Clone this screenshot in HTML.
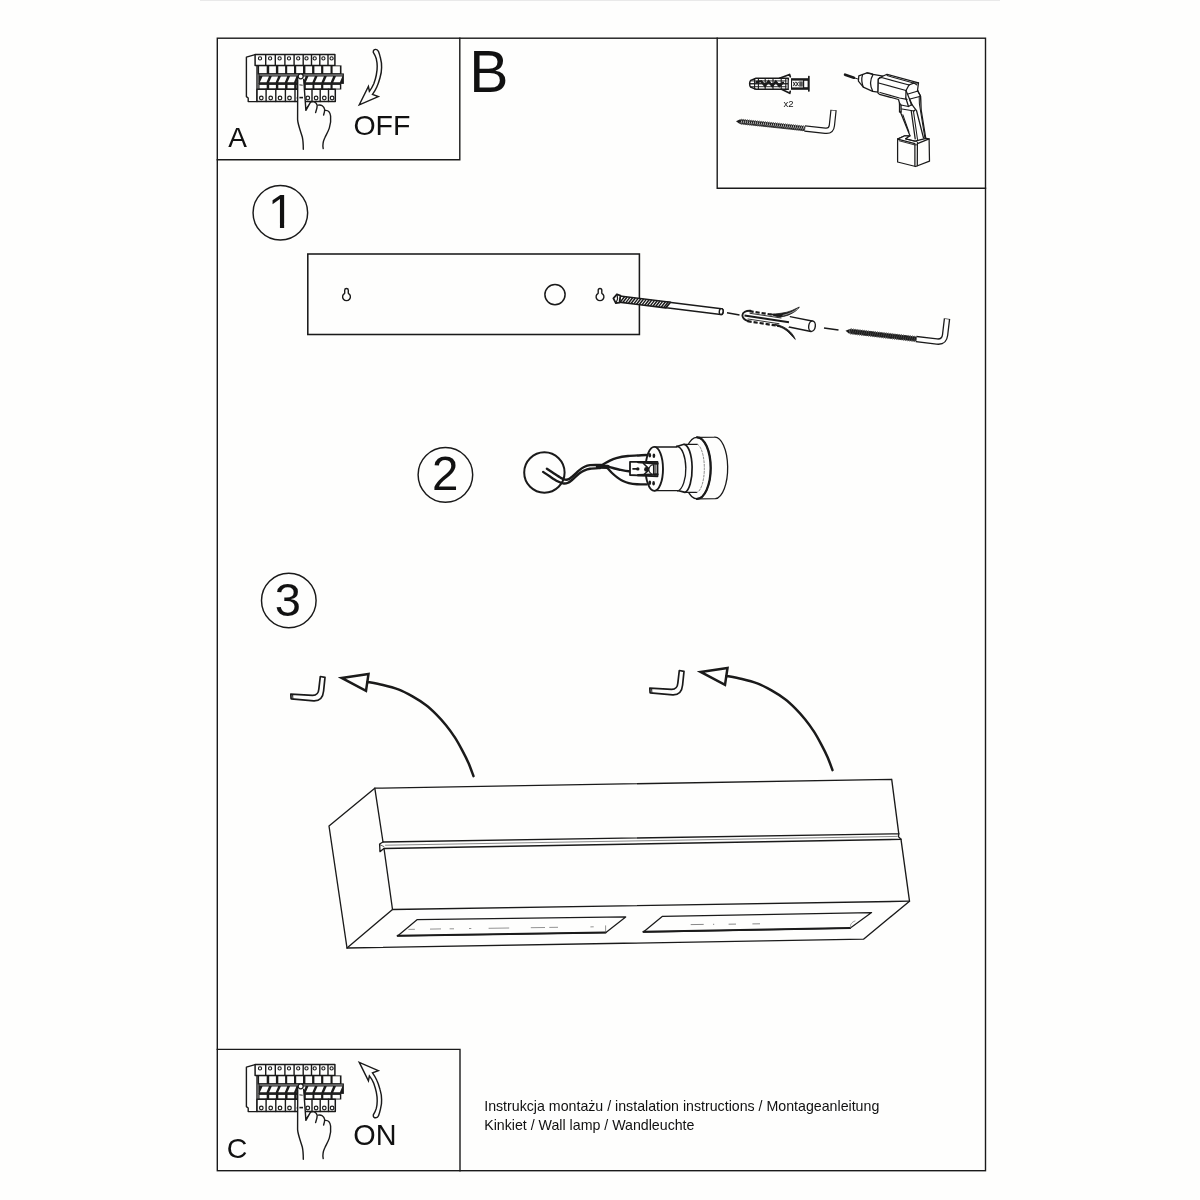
<!DOCTYPE html>
<html lang="pl">
<head>
<meta charset="utf-8">
<title>Instrukcja montażu</title>
<style>
html,body{margin:0;padding:0;background:#fefefd;}
body{width:1200px;height:1200px;overflow:hidden;position:relative;font-family:"Liberation Sans",sans-serif;color:#111;}
svg{position:absolute;left:0;top:0;will-change:transform;}
svg text{font-family:"Liberation Sans",sans-serif;fill:#111;}
.t{position:absolute;white-space:nowrap;line-height:1;color:#111;}
.k{fill:none;stroke:#1a1a1a;stroke-width:1.3;stroke-linecap:round;stroke-linejoin:round;}
.w{fill:#fefefd;stroke:#1a1a1a;stroke-width:1.3;stroke-linecap:round;stroke-linejoin:round;}
.b{fill:#1a1a1a;stroke:none;}
</style>
</head>
<body>
<svg width="1200" height="1200" viewBox="0 0 1200 1200">
<rect x="200" y="0" width="800" height="1" fill="#e9e9e9"/><g class="k" style="stroke-linecap:square;stroke-linejoin:miter;stroke-width:1.4"><rect x="217.3" y="38.2" width="768.2" height="1132.5"/><path d="M217.3 159.7H459.8V38.2"/><path d="M717.2 38.2V188.2H985.5"/><path d="M217.3 1049.4H460V1170.7"/></g><circle class="k" cx="280.35" cy="212.7" r="27.3" style="stroke-width:1.45"/><circle class="k" cx="445.4" cy="474.85" r="27.3" style="stroke-width:1.45"/><circle class="k" cx="288.8" cy="600.5" r="27.3" style="stroke-width:1.45"/><rect class="k" x="307.8" y="254" width="331.6" height="80.5" style="stroke-linejoin:miter;stroke-width:1.55"/><defs><g id="brk"><polygon class="w" points="255.1,54.6 246.4,57.2 246.4,96.6 248.2,98.0 248.2,101.6 257.0,101.6 257.0,54.6" style="stroke-width:1.4"/><rect class="w" x="255.1" y="54.6" width="79.8" height="10.8" style="stroke-width:1.5"/><line class="k" x1="265.7" y1="54.6" x2="265.7" y2="65.4" style="stroke-width:1.4"/><line class="k" x1="275.3" y1="54.6" x2="275.3" y2="65.4" style="stroke-width:1.4"/><line class="k" x1="284.9" y1="54.6" x2="284.9" y2="65.4" style="stroke-width:1.4"/><line class="k" x1="294.1" y1="54.6" x2="294.1" y2="65.4" style="stroke-width:1.4"/><line class="k" x1="303.2" y1="54.6" x2="303.2" y2="65.4" style="stroke-width:1.4"/><line class="k" x1="311.5" y1="54.6" x2="311.5" y2="65.4" style="stroke-width:1.4"/><line class="k" x1="319.8" y1="54.6" x2="319.8" y2="65.4" style="stroke-width:1.4"/><line class="k" x1="328.0" y1="54.6" x2="328.0" y2="65.4" style="stroke-width:1.4"/><circle class="k" cx="260.0" cy="58.4" r="1.6" style="stroke-width:1.1"/><circle class="k" cx="270.1" cy="58.4" r="1.6" style="stroke-width:1.1"/><circle class="k" cx="279.6" cy="58.4" r="1.6" style="stroke-width:1.1"/><circle class="k" cx="289.0" cy="58.4" r="1.6" style="stroke-width:1.1"/><circle class="k" cx="298.2" cy="58.4" r="1.6" style="stroke-width:1.1"/><circle class="k" cx="306.5" cy="58.4" r="1.6" style="stroke-width:1.1"/><circle class="k" cx="314.7" cy="58.4" r="1.6" style="stroke-width:1.1"/><circle class="k" cx="323.4" cy="58.4" r="1.6" style="stroke-width:1.1"/><circle class="k" cx="331.6" cy="58.4" r="1.6" style="stroke-width:1.1"/><rect class="b" x="257.6" y="65.4" width="83.9" height="9"/><rect x="259.1" y="66.3" width="7.6" height="7" fill="#fefefd"/><rect x="269.2" y="66.3" width="6.7" height="7" fill="#fefefd"/><rect x="278.3" y="66.3" width="6.8" height="7" fill="#fefefd"/><rect x="287.2" y="66.3" width="6.8" height="7" fill="#fefefd"/><rect x="296.2" y="66.3" width="6.8" height="7" fill="#fefefd"/><rect x="305.4" y="66.3" width="6.7" height="7" fill="#fefefd"/><rect x="314.4" y="66.3" width="6.7" height="7" fill="#fefefd"/><rect x="323.3" y="66.3" width="7.2" height="7" fill="#fefefd"/><rect x="332.6" y="66.3" width="7.3" height="7" fill="#fefefd"/><rect class="b" x="258.3" y="73.4" width="85.6" height="10.5"/><rect x="259.5" y="74.7" width="83.2" height="0.6" fill="#fefefd"/><polygon class="w" points="262.5,76.4 268.9,76.4 266.5,82.3 259.9,82.3" style="stroke:none"/><polygon class="w" points="271.7,76.4 278.1,76.4 275.7,82.3 269.1,82.3" style="stroke:none"/><polygon class="w" points="280.8,76.4 287.2,76.4 284.8,82.3 278.2,82.3" style="stroke:none"/><polygon class="w" points="290.0,76.4 296.4,76.4 294.0,82.3 287.4,82.3" style="stroke:none"/><polygon class="w" points="299.2,76.4 305.6,76.4 303.2,82.3 296.6,82.3" style="stroke:none"/><polygon class="w" points="308.4,76.4 314.8,76.4 312.4,82.3 305.8,82.3" style="stroke:none"/><polygon class="w" points="317.5,76.4 323.9,76.4 321.5,82.3 314.9,82.3" style="stroke:none"/><polygon class="w" points="326.7,76.4 333.1,76.4 330.7,82.3 324.1,82.3" style="stroke:none"/><polygon class="w" points="335.9,76.4 342.3,76.4 339.9,82.3 333.3,82.3" style="stroke:none"/><rect class="b" x="258.3" y="83.3" width="83" height="6.2"/><rect x="259.5" y="84.9" width="7.2" height="3.7" fill="#fefefd"/><rect x="269.2" y="84.9" width="6.7" height="3.7" fill="#fefefd"/><rect x="278.3" y="84.9" width="6.8" height="3.7" fill="#fefefd"/><rect x="287.5" y="84.9" width="6.7" height="3.7" fill="#fefefd"/><rect x="296.7" y="84.9" width="6.7" height="3.7" fill="#fefefd"/><rect x="305.8" y="84.9" width="6.7" height="3.7" fill="#fefefd"/><rect x="314.4" y="84.9" width="6.7" height="3.7" fill="#fefefd"/><rect x="323.3" y="84.9" width="7.2" height="3.7" fill="#fefefd"/><rect x="332.6" y="84.9" width="7.3" height="3.7" fill="#fefefd"/><rect class="w" x="257" y="89.3" width="78.3" height="12.3" style="stroke-width:1.5"/><line class="k" x1="266.1" y1="89.3" x2="266.1" y2="101.6" style="stroke-width:1.4"/><line class="k" x1="275.8" y1="89.3" x2="275.8" y2="101.6" style="stroke-width:1.4"/><line class="k" x1="285.4" y1="89.3" x2="285.4" y2="101.6" style="stroke-width:1.4"/><line class="k" x1="295.0" y1="89.3" x2="295.0" y2="101.6" style="stroke-width:1.4"/><line class="k" x1="304.2" y1="89.3" x2="304.2" y2="101.6" style="stroke-width:1.4"/><line class="k" x1="312.0" y1="89.3" x2="312.0" y2="101.6" style="stroke-width:1.4"/><line class="k" x1="320.2" y1="89.3" x2="320.2" y2="101.6" style="stroke-width:1.4"/><line class="k" x1="328.5" y1="89.3" x2="328.5" y2="101.6" style="stroke-width:1.4"/><circle class="k" cx="261.3" cy="98.0" r="1.8" style="stroke-width:1.2"/><circle class="k" cx="270.7" cy="98.0" r="1.8" style="stroke-width:1.2"/><circle class="k" cx="280.0" cy="98.0" r="1.8" style="stroke-width:1.2"/><circle class="k" cx="289.5" cy="98.0" r="1.8" style="stroke-width:1.2"/><circle class="k" cx="299.0" cy="98.0" r="1.8" style="stroke-width:1.2"/><circle class="k" cx="307.8" cy="98.0" r="1.8" style="stroke-width:1.2"/><circle class="k" cx="316.1" cy="98.0" r="1.8" style="stroke-width:1.2"/><circle class="k" cx="324.3" cy="98.0" r="1.8" style="stroke-width:1.2"/><circle class="k" cx="332.1" cy="98.0" r="1.8" style="stroke-width:1.2"/><path class="w" d="M297.7 79.5 L297.6 119.6 C297.8 124 300.5 131 302.3 137 C303.2 141 303.3 145 303.3 149.3 L323.2 148.6 C322.3 144 323.5 141 324.7 138 C327 133 329 130 329.6 126 C330.8 121 331 116 329.5 113 C328.6 111 327 110.4 325.4 110.4 C324.7 107 322.5 105.2 320.5 105 C319.3 104.9 318.6 105 318.3 105.1 C317 102.3 315 101.6 313 101.7 C312 101.7 311 101.9 310.5 102.2 L305.9 110.4 L303.7 79.5 Z" style="stroke:none"/><path class="k" d="M297.7 79.5 L297.6 119.6 C297.8 124 300.5 131 302.3 137 C303.2 141 303.3 145 303.3 149.3" style="stroke-width:1.4"/><path class="k" d="M303.7 79.5 L305.9 110.4 L310.5 102.2" style="stroke-width:1.4"/><path class="k" d="M310.5 102.2 C312.5 101.2 316 101.5 317.2 105.2 C317.3 108 316.3 110.5 315.6 112.6" style="stroke-width:1.4"/><path class="k" d="M318.3 105.1 C321 104.4 324 106 324.7 109.7 C324.6 112 324 113.6 323.6 115" style="stroke-width:1.4"/><path class="k" d="M325.4 110.4 C328 110.2 330 112 330.6 116 C331.1 120 330.5 124 329.3 128.1 C328 132 326 135 324.7 138 C323.3 141 322.2 144 323.2 148.6" style="stroke-width:1.4"/><path class="b" d="M305.7 108 L305.9 110.4 L309.6 103.8 Z" /><circle class="w" cx="300.7" cy="76.3" r="2.5" style="stroke-width:1.25"/><line class="k" x1="299.8" y1="84.9" x2="302.3" y2="85.2" style="stroke-width:0.9"/><rect class="b" x="299.4" y="96.8" width="3.6" height="1.6"/></g><path id="arw" class="w" style="stroke-width:1.45;stroke-linejoin:miter" d="M373.3 52.4 C373 50.2 374.4 49.3 375.8 49.4 C377.2 49.5 378 50.3 378.5 51.5 C379.5 54 380 56 380.4 57.8 C381.5 62 381.8 65 381.6 67.5 C381.6 71 381 74.5 380 77.8 C379 81.5 378 84.5 376.8 87 C375.5 90 374 92.3 372.5 94.4 L378.3 96.6 L359.3 104.8 L368.4 86.4 L369.4 91.3 C371 89.3 372.6 86.5 373.8 83.8 C375 80.5 375.8 77.8 376.3 75 C376.9 72 377.3 69 377.2 66.3 C377.2 63.5 376.8 61 376.3 58.8 C375.7 56.5 374.7 54.6 373.3 52.4 Z"/></defs><use href="#brk"/><use href="#brk" transform="translate(0,1010)"/><use href="#arw"/><use href="#arw" transform="translate(0,1167.2) scale(1,-1)"/><g><path class="w" d="M788.3 78.2 H756 L750.6 80.4 C749.3 82 749.3 85.5 750.6 87.1 L756 89.3 H788.3 Z" style="stroke-width:1.5"/><path class="k" d="M779.5 78.2 L789.6 74.5 L790.3 76.8" style="stroke-width:1.7"/><path class="k" d="M781.5 89.3 L789.8 93.3 L790.2 91.3" style="stroke-width:1.7"/><line class="k" x1="754.6" y1="78.6" x2="754.6" y2="89.0" style="stroke-width:1.1"/><line class="k" x1="758.4" y1="78.6" x2="758.4" y2="89.0" style="stroke-width:1.1"/><line class="k" x1="765.2" y1="78.6" x2="765.2" y2="89.0" style="stroke-width:1.1"/><line class="k" x1="773.0" y1="78.6" x2="773.0" y2="89.0" style="stroke-width:1.1"/><line class="k" x1="781.2" y1="78.6" x2="781.2" y2="89.0" style="stroke-width:1.1"/><line class="k" x1="785.8" y1="78.6" x2="785.8" y2="89.0" style="stroke-width:1.1"/><line class="k" x1="751.0" y1="80.9" x2="786.0" y2="80.9" style="stroke-width:0.9"/><line class="k" x1="751.0" y1="86.7" x2="786.0" y2="86.7" style="stroke-width:0.9"/><rect class="b" x="750" y="83.1" width="38" height="1.3"/><polyline class="k" points="756.5,82.2 761.3,81.2 765.0,85.8 768.6,81.3 772.2,86.0 775.8,81.5 779.3,86.1 783.0,82.6" style="stroke-width:2.3;stroke-linejoin:miter"/><rect class="b" x="791" y="78.2" width="17.4" height="11.6"/><rect x="792" y="80.6" width="11" height="6.8" fill="#fefefd"/><rect x="804.2" y="80.8" width="3.4" height="6.4" fill="#fefefd"/><rect x="799.2" y="81.4" width="3.6" height="5.2" fill="#555"/><path class="k" d="M793.2 82.2 l2.2 3.6 M795.4000000000001 82.2 l-2.2 3.6" style="stroke-width:0.9"/><path class="k" d="M796.2 82.2 l2.2 3.6 M798.4000000000001 82.2 l-2.2 3.6" style="stroke-width:0.9"/><rect x="788.8" y="80.2" width="1.8" height="9" fill="#fefefd"/><rect class="b" x="808" y="75.8" width="1.7" height="15.9" rx="0.6"/></g><g transform="translate(736 121.2) rotate(6.1)"><path class="b" d="M0 0 L4 -2.3 L4 2.3 Z" /><rect class="b" x="4" y="-1.9" width="65.0" height="3.8"/><path d="M5.9 -1.4 L5.1 1.4" stroke="#e0e0e0" stroke-width="0.75" fill="none"/><path d="M7.9 -1.4 L7.1 1.4" stroke="#e0e0e0" stroke-width="0.75" fill="none"/><path d="M9.9 -1.4 L9.1 1.4" stroke="#e0e0e0" stroke-width="0.75" fill="none"/><path d="M11.9 -1.4 L11.1 1.4" stroke="#e0e0e0" stroke-width="0.75" fill="none"/><path d="M13.9 -1.4 L13.1 1.4" stroke="#e0e0e0" stroke-width="0.75" fill="none"/><path d="M15.9 -1.4 L15.1 1.4" stroke="#e0e0e0" stroke-width="0.75" fill="none"/><path d="M17.9 -1.4 L17.1 1.4" stroke="#e0e0e0" stroke-width="0.75" fill="none"/><path d="M19.9 -1.4 L19.1 1.4" stroke="#e0e0e0" stroke-width="0.75" fill="none"/><path d="M21.9 -1.4 L21.1 1.4" stroke="#e0e0e0" stroke-width="0.75" fill="none"/><path d="M23.9 -1.4 L23.1 1.4" stroke="#e0e0e0" stroke-width="0.75" fill="none"/><path d="M25.9 -1.4 L25.1 1.4" stroke="#e0e0e0" stroke-width="0.75" fill="none"/><path d="M27.9 -1.4 L27.1 1.4" stroke="#e0e0e0" stroke-width="0.75" fill="none"/><path d="M29.9 -1.4 L29.1 1.4" stroke="#e0e0e0" stroke-width="0.75" fill="none"/><path d="M31.9 -1.4 L31.1 1.4" stroke="#e0e0e0" stroke-width="0.75" fill="none"/><path d="M33.9 -1.4 L33.1 1.4" stroke="#e0e0e0" stroke-width="0.75" fill="none"/><path d="M35.9 -1.4 L35.1 1.4" stroke="#e0e0e0" stroke-width="0.75" fill="none"/><path d="M37.9 -1.4 L37.1 1.4" stroke="#e0e0e0" stroke-width="0.75" fill="none"/><path d="M39.9 -1.4 L39.1 1.4" stroke="#e0e0e0" stroke-width="0.75" fill="none"/><path d="M41.9 -1.4 L41.1 1.4" stroke="#e0e0e0" stroke-width="0.75" fill="none"/><path d="M43.9 -1.4 L43.1 1.4" stroke="#e0e0e0" stroke-width="0.75" fill="none"/><path d="M45.9 -1.4 L45.1 1.4" stroke="#e0e0e0" stroke-width="0.75" fill="none"/><path d="M47.9 -1.4 L47.1 1.4" stroke="#e0e0e0" stroke-width="0.75" fill="none"/><path d="M49.9 -1.4 L49.1 1.4" stroke="#e0e0e0" stroke-width="0.75" fill="none"/><path d="M51.9 -1.4 L51.1 1.4" stroke="#e0e0e0" stroke-width="0.75" fill="none"/><path d="M53.9 -1.4 L53.1 1.4" stroke="#e0e0e0" stroke-width="0.75" fill="none"/><path d="M55.9 -1.4 L55.1 1.4" stroke="#e0e0e0" stroke-width="0.75" fill="none"/><path d="M57.9 -1.4 L57.1 1.4" stroke="#e0e0e0" stroke-width="0.75" fill="none"/><path d="M59.9 -1.4 L59.1 1.4" stroke="#e0e0e0" stroke-width="0.75" fill="none"/><path d="M61.9 -1.4 L61.1 1.4" stroke="#e0e0e0" stroke-width="0.75" fill="none"/><path d="M63.9 -1.4 L63.1 1.4" stroke="#e0e0e0" stroke-width="0.75" fill="none"/><path d="M65.9 -1.4 L65.1 1.4" stroke="#e0e0e0" stroke-width="0.75" fill="none"/><path d="M67.9 -1.4 L67.1 1.4" stroke="#e0e0e0" stroke-width="0.75" fill="none"/><path class="k" d="M4.5 -1.8 l1.0 -0.7 l1.0 0.7 M4.5 1.8 l1.0 0.7 l1.0 -0.7 M6.5 -1.8 l1.0 -0.7 l1.0 0.7 M6.5 1.8 l1.0 0.7 l1.0 -0.7 M8.5 -1.8 l1.0 -0.7 l1.0 0.7 M8.5 1.8 l1.0 0.7 l1.0 -0.7 M10.5 -1.8 l1.0 -0.7 l1.0 0.7 M10.5 1.8 l1.0 0.7 l1.0 -0.7 M12.5 -1.8 l1.0 -0.7 l1.0 0.7 M12.5 1.8 l1.0 0.7 l1.0 -0.7 M14.5 -1.8 l1.0 -0.7 l1.0 0.7 M14.5 1.8 l1.0 0.7 l1.0 -0.7 M16.5 -1.8 l1.0 -0.7 l1.0 0.7 M16.5 1.8 l1.0 0.7 l1.0 -0.7 M18.5 -1.8 l1.0 -0.7 l1.0 0.7 M18.5 1.8 l1.0 0.7 l1.0 -0.7 M20.5 -1.8 l1.0 -0.7 l1.0 0.7 M20.5 1.8 l1.0 0.7 l1.0 -0.7 M22.5 -1.8 l1.0 -0.7 l1.0 0.7 M22.5 1.8 l1.0 0.7 l1.0 -0.7 M24.5 -1.8 l1.0 -0.7 l1.0 0.7 M24.5 1.8 l1.0 0.7 l1.0 -0.7 M26.5 -1.8 l1.0 -0.7 l1.0 0.7 M26.5 1.8 l1.0 0.7 l1.0 -0.7 M28.5 -1.8 l1.0 -0.7 l1.0 0.7 M28.5 1.8 l1.0 0.7 l1.0 -0.7 M30.5 -1.8 l1.0 -0.7 l1.0 0.7 M30.5 1.8 l1.0 0.7 l1.0 -0.7 M32.5 -1.8 l1.0 -0.7 l1.0 0.7 M32.5 1.8 l1.0 0.7 l1.0 -0.7 M34.5 -1.8 l1.0 -0.7 l1.0 0.7 M34.5 1.8 l1.0 0.7 l1.0 -0.7 M36.5 -1.8 l1.0 -0.7 l1.0 0.7 M36.5 1.8 l1.0 0.7 l1.0 -0.7 M38.5 -1.8 l1.0 -0.7 l1.0 0.7 M38.5 1.8 l1.0 0.7 l1.0 -0.7 M40.5 -1.8 l1.0 -0.7 l1.0 0.7 M40.5 1.8 l1.0 0.7 l1.0 -0.7 M42.5 -1.8 l1.0 -0.7 l1.0 0.7 M42.5 1.8 l1.0 0.7 l1.0 -0.7 M44.5 -1.8 l1.0 -0.7 l1.0 0.7 M44.5 1.8 l1.0 0.7 l1.0 -0.7 M46.5 -1.8 l1.0 -0.7 l1.0 0.7 M46.5 1.8 l1.0 0.7 l1.0 -0.7 M48.5 -1.8 l1.0 -0.7 l1.0 0.7 M48.5 1.8 l1.0 0.7 l1.0 -0.7 M50.5 -1.8 l1.0 -0.7 l1.0 0.7 M50.5 1.8 l1.0 0.7 l1.0 -0.7 M52.5 -1.8 l1.0 -0.7 l1.0 0.7 M52.5 1.8 l1.0 0.7 l1.0 -0.7 M54.5 -1.8 l1.0 -0.7 l1.0 0.7 M54.5 1.8 l1.0 0.7 l1.0 -0.7 M56.5 -1.8 l1.0 -0.7 l1.0 0.7 M56.5 1.8 l1.0 0.7 l1.0 -0.7 M58.5 -1.8 l1.0 -0.7 l1.0 0.7 M58.5 1.8 l1.0 0.7 l1.0 -0.7 M60.5 -1.8 l1.0 -0.7 l1.0 0.7 M60.5 1.8 l1.0 0.7 l1.0 -0.7 M62.5 -1.8 l1.0 -0.7 l1.0 0.7 M62.5 1.8 l1.0 0.7 l1.0 -0.7 M64.5 -1.8 l1.0 -0.7 l1.0 0.7 M64.5 1.8 l1.0 0.7 l1.0 -0.7 M66.5 -1.8 l1.0 -0.7 l1.0 0.7 M66.5 1.8 l1.0 0.7 l1.0 -0.7 " style="stroke-width:0.8"/><path d="M69 0 H89.8 Q95.8 0 95.8 -6 V-21.5" fill="none" stroke="#1a1a1a" stroke-width="6.4" stroke-linecap="butt"/><path d="M69.6 0 H89.8 Q95.8 0 95.8 -6 V-20.9" fill="none" stroke="#fefefd" stroke-width="4.0" stroke-linecap="butt"/></g><g><path class="k" d="M845.1 74.7 L853.9 77.7" style="stroke-width:2.7;stroke-linecap:round"/><path class="k" d="M853.9 77.7 L859 79.4" style="stroke-width:1"/><path class="w" d="M858.8 75.9 L867 72.9 L873 74.4 L884.5 76.3 L878.3 78.8 L878 92.2 L872.6 91.4 L863.3 87.1 L858.4 81.1 Z" style="stroke-width:1.25"/><path class="k" d="M862.6 74.6 Q860.7 80.3 863.3 87.1" style="stroke-width:1.25"/><path class="k" d="M873 74.6 Q868.2 82.6 872.8 91.4" style="stroke-width:1.25"/><path class="k" d="M867 72.9 Q870.5 73 873 74.4" style="stroke-width:1.25"/><polygon class="w" points="878.3,79.4 880.0,77.5 887.0,74.3 918.5,82.8 917.5,90.5 920.5,96.0 921.0,118.0 900.0,112.0 899.5,103.0 898.5,99.5 879.5,94.4 878.0,93.0" style="stroke-width:1.25"/><line class="k" x1="887.0" y1="75.6" x2="913.5" y2="82.9" style="stroke-width:1.05"/><polyline class="k" points="879.4,78.2 881.5,77.5 909.0,85.0" style="stroke-width:1.25"/><line class="k" x1="878.6" y1="83.0" x2="906.0" y2="90.5" style="stroke-width:1.25"/><polyline class="k" points="880.0,92.5 899.5,98.0 907.0,99.3" style="stroke-width:1.25"/><polyline class="k" points="909.0,85.0 913.6,83.2 918.5,82.8" style="stroke-width:1.25"/><polyline class="k" points="913.5,82.9 917.0,85.0" style="stroke-width:1.05"/><polyline class="k" points="909.0,85.0 906.0,90.5 905.8,98.0" style="stroke-width:1.25"/></g><g><polygon class="w" points="899.5,103.0 901.0,105.0 908.5,106.5 912.0,104.5 909.5,99.0 920.5,96.0 923.5,118.0 926.2,138.4 914.8,143.4 905.0,139.0 910.0,135.8 900.3,111.8" style="stroke:none"/><polyline class="k" points="906.0,90.5 909.5,99.0 911.5,105.0" style="stroke-width:1.25"/><polyline class="k" points="908.0,94.0 918.0,91.0" style="stroke-width:1.25"/><polyline class="k" points="910.0,99.0 919.6,96.5" style="stroke-width:1.25"/><polyline class="k" points="899.5,103.0 899.5,112.0 901.2,112.2 901.0,105.0 908.5,106.5 912.0,104.5 909.5,99.0" style="stroke-width:1.25"/><polyline class="k" points="899.5,103.0 901.0,105.0" style="stroke-width:1.05"/><polyline class="k" points="905.8,98.0 908.5,106.5" style="stroke-width:1.25"/><polyline class="k" points="902.0,109.0 914.0,111.0 915.4,109.6" style="stroke-width:1.25"/><polyline class="k" points="900.3,111.8 910.0,135.8 904.8,135.8 897.6,139.1" style="stroke-width:1.25"/><polyline class="k" points="902.9,114.8 908.9,132.0" style="stroke-width:1.05"/><polyline class="k" points="911.2,110.6 915.2,138.8" style="stroke-width:1.25"/><polyline class="k" points="913.4,110.9 917.5,139.5" style="stroke-width:1.05"/><polyline class="k" points="912.0,104.5 916.5,110.5 923.5,138.0" style="stroke-width:1.25"/><polyline class="k" points="917.5,90.5 920.5,96.0 921.2,110.0 925.8,138.6" style="stroke-width:1.25"/><polyline class="k" points="919.2,97.0 919.4,104.0 925.0,138.7" style="stroke-width:1.05"/></g><g><polygon class="w" points="897.6,139.1 904.8,135.8 910.0,135.8 905.6,138.8 914.9,141.2 926.2,138.4 929.1,138.8 929.5,161.2 915.6,166.5 897.6,162.0" style="stroke-width:1.25"/><polyline class="k" points="897.6,139.1 914.9,143.7 914.9,165.9" style="stroke-width:1.25"/><polyline class="k" points="917.3,165.7 917.4,143.6 929.1,138.8" style="stroke-width:1.25"/><polyline class="k" points="899.2,140.8 914.6,144.9 917.2,144.8" style="stroke-width:0.9"/><polyline class="k" points="905.6,138.8 915.8,141.4 917.6,142.0 917.4,143.6" style="stroke-width:0.9"/></g><path class="k" d="M344.7 290.3 A1.8 1.8 0 0 1 348.3 290.3 L348.3 293.3 A3.9 3.9 0 1 1 344.7 293.3 Z" style="stroke-width:1.4"/><path class="k" d="M598.2 290.3 A1.8 1.8 0 0 1 601.8 290.3 L601.8 293.3 A3.9 3.9 0 1 1 598.2 293.3 Z" style="stroke-width:1.4"/><circle class="k" cx="555.0" cy="294.6" r="10.1" style="stroke-width:1.5"/><g transform="translate(613 298.3) rotate(7)"><path class="w" d="M54 -2.95 H109 A2 2.95 0 0 1 109 2.95 H54 Z" style="stroke-width:1.5"/><ellipse class="w" cx="109" cy="0" rx="1.9" ry="2.95" style="stroke-width:1.4"/><path class="w" d="M6.5 -3.1 H57.5 L53.5 3.1 H6.5 Z" style="stroke-width:1.7"/><path class="k" d="M7.6 3 L11.2 -3 M10.3 3 L13.9 -3 M13.1 3 L16.7 -3 M15.8 3 L19.4 -3 M18.6 3 L22.2 -3 M21.4 3 L25.0 -3 M24.1 3 L27.7 -3 M26.9 3 L30.5 -3 M29.6 3 L33.2 -3 M32.4 3 L36.0 -3 M35.1 3 L38.7 -3 M37.9 3 L41.5 -3 M40.6 3 L44.2 -3 M43.4 3 L47.0 -3 M46.1 3 L49.7 -3 M48.9 3 L52.5 -3 M51.6 3 L55.2 -3 " style="stroke-width:1.45;stroke-linecap:butt"/><polygon class="w" points="0.4,0.0 3.4,-4.5 7.0,-3.6 7.0,3.6 3.4,4.5" style="stroke-width:1.8"/><polyline class="k" points="3.6,-4.2 4.6,0.0 3.6,4.2" style="stroke-width:1.2"/></g><line class="k" x1="727.0" y1="312.8" x2="739.5" y2="315.0" style="stroke-width:1.6;stroke-linecap:butt"/><line class="k" x1="824.0" y1="328.0" x2="838.5" y2="330.0" style="stroke-width:1.6;stroke-linecap:butt"/><path class="w" d="M790 316.6 L812 321 A3.4 5.3 8 0 1 811 331.5 L789 327 Z" style="stroke:none"/><path class="k" d="M790 316.6 L812 321 M811 331.5 L789 327" style="stroke-width:1.4"/><ellipse class="w" cx="812" cy="326.2" rx="3.3" ry="5.2" transform="rotate(8 812 326.2)" style="stroke-width:1.4"/><polygon class="w" points="742.3,315.0 744.0,312.3 749.0,310.6 781.0,315.6 790.0,316.6 789.0,327.0 779.0,325.8 747.0,321.0 743.6,318.2" style="stroke:none"/><path class="k" d="M750.5 310.8 C746 310.6 742.6 312.4 742.4 315.2 C742.4 317.8 744.6 319.8 748 321" style="stroke-width:1.9"/><line class="k" x1="749.5" y1="311.2" x2="781.5" y2="316.1" style="stroke-width:2.2;stroke-linecap:butt;stroke-dasharray:4.2 1.9"/><line class="k" x1="750.0" y1="313.3" x2="781.0" y2="318.0" style="stroke-width:0.9"/><line class="k" x1="747.5" y1="321.2" x2="779.5" y2="326.0" style="stroke-width:2.2;stroke-linecap:butt;stroke-dasharray:4.2 1.9"/><line class="k" x1="748.0" y1="319.0" x2="779.0" y2="323.7" style="stroke-width:0.9"/><line class="k" x1="744.5" y1="315.5" x2="789.0" y2="322.3" style="stroke-width:1.9;stroke-linecap:butt"/><path class="b" d="M770 314.2 C776 314 786 313.2 792 310.5 C795 309 797.5 308 799.3 307 C797.5 310 794 312.6 788 315.2 C785 316.3 782 316.9 779 317 Z" style="stroke:#1a1a1a;stroke-width:0.8"/><path class="b" d="M775 324.2 C781 325.4 786 327.6 790 331.5 C792.5 334 794.2 336.5 795.3 339.4 C792 336.4 790 333.6 787 331 C784 328.6 781 327 777 326.2 Z" style="stroke:#1a1a1a;stroke-width:0.8"/><path class="k" d="M783 315.3 C789 314 794 311.6 797.6 308.8" style="stroke:#fefefd;stroke-width:0.55"/><g transform="translate(845.5 330.8) rotate(6.7)"><path class="b" d="M0 0 L4 -2.4 L4 2.4 Z" /><rect class="b" x="4" y="-2.0" width="67.0" height="4.0"/><path d="M5.9 -1.5 L5.1 1.5" stroke="#666" stroke-width="0.5" fill="none"/><path d="M8.1 -1.5 L7.3 1.5" stroke="#666" stroke-width="0.5" fill="none"/><path d="M10.3 -1.5 L9.5 1.5" stroke="#666" stroke-width="0.5" fill="none"/><path d="M12.5 -1.5 L11.7 1.5" stroke="#666" stroke-width="0.5" fill="none"/><path d="M14.7 -1.5 L13.9 1.5" stroke="#666" stroke-width="0.5" fill="none"/><path d="M16.9 -1.5 L16.1 1.5" stroke="#666" stroke-width="0.5" fill="none"/><path d="M19.1 -1.5 L18.3 1.5" stroke="#666" stroke-width="0.5" fill="none"/><path d="M21.3 -1.5 L20.5 1.5" stroke="#666" stroke-width="0.5" fill="none"/><path d="M23.5 -1.5 L22.7 1.5" stroke="#666" stroke-width="0.5" fill="none"/><path d="M25.7 -1.5 L24.9 1.5" stroke="#666" stroke-width="0.5" fill="none"/><path d="M27.9 -1.5 L27.1 1.5" stroke="#666" stroke-width="0.5" fill="none"/><path d="M30.1 -1.5 L29.3 1.5" stroke="#666" stroke-width="0.5" fill="none"/><path d="M32.3 -1.5 L31.5 1.5" stroke="#666" stroke-width="0.5" fill="none"/><path d="M34.5 -1.5 L33.7 1.5" stroke="#666" stroke-width="0.5" fill="none"/><path d="M36.7 -1.5 L35.9 1.5" stroke="#666" stroke-width="0.5" fill="none"/><path d="M38.9 -1.5 L38.1 1.5" stroke="#666" stroke-width="0.5" fill="none"/><path d="M41.1 -1.5 L40.3 1.5" stroke="#666" stroke-width="0.5" fill="none"/><path d="M43.3 -1.5 L42.5 1.5" stroke="#666" stroke-width="0.5" fill="none"/><path d="M45.5 -1.5 L44.7 1.5" stroke="#666" stroke-width="0.5" fill="none"/><path d="M47.7 -1.5 L46.9 1.5" stroke="#666" stroke-width="0.5" fill="none"/><path d="M49.9 -1.5 L49.1 1.5" stroke="#666" stroke-width="0.5" fill="none"/><path d="M52.1 -1.5 L51.3 1.5" stroke="#666" stroke-width="0.5" fill="none"/><path d="M54.3 -1.5 L53.5 1.5" stroke="#666" stroke-width="0.5" fill="none"/><path d="M56.5 -1.5 L55.7 1.5" stroke="#666" stroke-width="0.5" fill="none"/><path d="M58.7 -1.5 L57.9 1.5" stroke="#666" stroke-width="0.5" fill="none"/><path d="M60.9 -1.5 L60.1 1.5" stroke="#666" stroke-width="0.5" fill="none"/><path d="M63.1 -1.5 L62.3 1.5" stroke="#666" stroke-width="0.5" fill="none"/><path d="M65.3 -1.5 L64.5 1.5" stroke="#666" stroke-width="0.5" fill="none"/><path d="M67.5 -1.5 L66.7 1.5" stroke="#666" stroke-width="0.5" fill="none"/><path d="M69.7 -1.5 L68.9 1.5" stroke="#666" stroke-width="0.5" fill="none"/><path class="k" d="M4.5 -1.9 l1.1 -0.7 l1.1 0.7 M4.5 1.9 l1.1 0.7 l1.1 -0.7 M6.7 -1.9 l1.1 -0.7 l1.1 0.7 M6.7 1.9 l1.1 0.7 l1.1 -0.7 M8.9 -1.9 l1.1 -0.7 l1.1 0.7 M8.9 1.9 l1.1 0.7 l1.1 -0.7 M11.1 -1.9 l1.1 -0.7 l1.1 0.7 M11.1 1.9 l1.1 0.7 l1.1 -0.7 M13.3 -1.9 l1.1 -0.7 l1.1 0.7 M13.3 1.9 l1.1 0.7 l1.1 -0.7 M15.5 -1.9 l1.1 -0.7 l1.1 0.7 M15.5 1.9 l1.1 0.7 l1.1 -0.7 M17.7 -1.9 l1.1 -0.7 l1.1 0.7 M17.7 1.9 l1.1 0.7 l1.1 -0.7 M19.9 -1.9 l1.1 -0.7 l1.1 0.7 M19.9 1.9 l1.1 0.7 l1.1 -0.7 M22.1 -1.9 l1.1 -0.7 l1.1 0.7 M22.1 1.9 l1.1 0.7 l1.1 -0.7 M24.3 -1.9 l1.1 -0.7 l1.1 0.7 M24.3 1.9 l1.1 0.7 l1.1 -0.7 M26.5 -1.9 l1.1 -0.7 l1.1 0.7 M26.5 1.9 l1.1 0.7 l1.1 -0.7 M28.7 -1.9 l1.1 -0.7 l1.1 0.7 M28.7 1.9 l1.1 0.7 l1.1 -0.7 M30.9 -1.9 l1.1 -0.7 l1.1 0.7 M30.9 1.9 l1.1 0.7 l1.1 -0.7 M33.1 -1.9 l1.1 -0.7 l1.1 0.7 M33.1 1.9 l1.1 0.7 l1.1 -0.7 M35.3 -1.9 l1.1 -0.7 l1.1 0.7 M35.3 1.9 l1.1 0.7 l1.1 -0.7 M37.5 -1.9 l1.1 -0.7 l1.1 0.7 M37.5 1.9 l1.1 0.7 l1.1 -0.7 M39.7 -1.9 l1.1 -0.7 l1.1 0.7 M39.7 1.9 l1.1 0.7 l1.1 -0.7 M41.9 -1.9 l1.1 -0.7 l1.1 0.7 M41.9 1.9 l1.1 0.7 l1.1 -0.7 M44.1 -1.9 l1.1 -0.7 l1.1 0.7 M44.1 1.9 l1.1 0.7 l1.1 -0.7 M46.3 -1.9 l1.1 -0.7 l1.1 0.7 M46.3 1.9 l1.1 0.7 l1.1 -0.7 M48.5 -1.9 l1.1 -0.7 l1.1 0.7 M48.5 1.9 l1.1 0.7 l1.1 -0.7 M50.7 -1.9 l1.1 -0.7 l1.1 0.7 M50.7 1.9 l1.1 0.7 l1.1 -0.7 M52.9 -1.9 l1.1 -0.7 l1.1 0.7 M52.9 1.9 l1.1 0.7 l1.1 -0.7 M55.1 -1.9 l1.1 -0.7 l1.1 0.7 M55.1 1.9 l1.1 0.7 l1.1 -0.7 M57.3 -1.9 l1.1 -0.7 l1.1 0.7 M57.3 1.9 l1.1 0.7 l1.1 -0.7 M59.5 -1.9 l1.1 -0.7 l1.1 0.7 M59.5 1.9 l1.1 0.7 l1.1 -0.7 M61.7 -1.9 l1.1 -0.7 l1.1 0.7 M61.7 1.9 l1.1 0.7 l1.1 -0.7 M63.9 -1.9 l1.1 -0.7 l1.1 0.7 M63.9 1.9 l1.1 0.7 l1.1 -0.7 M66.1 -1.9 l1.1 -0.7 l1.1 0.7 M66.1 1.9 l1.1 0.7 l1.1 -0.7 M68.3 -1.9 l1.1 -0.7 l1.1 0.7 M68.3 1.9 l1.1 0.7 l1.1 -0.7 " style="stroke-width:0.8"/><path d="M71 0 H91.9 Q99.4 0 99.4 -7.5 V-24" fill="none" stroke="#1a1a1a" stroke-width="6.5" stroke-linecap="butt"/><path d="M71.6 0 H91.9 Q99.4 0 99.4 -7.5 V-23.35" fill="none" stroke="#fefefd" stroke-width="3.9" stroke-linecap="butt"/></g><circle class="k" cx="544.4" cy="472.5" r="20.2" style="stroke-width:2"/><path class="k" d="M543.1 471.9 C544.2 472.7 547.6 475.0 550.0 476.6 C552.4 478.2 555.3 480.2 557.5 481.3 C559.7 482.4 561.3 483.1 563.0 483.4 C564.7 483.7 566.0 483.6 567.5 483.0 C569.0 482.4 570.1 481.5 572.0 480.0 C573.9 478.5 576.8 475.4 578.8 473.8 C580.8 472.2 582.1 471.4 584.0 470.6 C585.9 469.8 587.3 469.2 590.0 468.8 C592.7 468.4 598.3 468.2 600.0 468.1" style="stroke-width:2.4"/><path class="k" d="M546.9 468.7 C548.1 469.5 551.6 471.8 554.0 473.4 C556.4 475.0 559.5 477.1 561.3 478.1 C563.1 479.1 563.8 479.4 565.0 479.6 C566.2 479.8 567.5 479.8 568.8 479.2 C570.1 478.6 571.3 477.4 573.0 476.0 C574.7 474.6 577.0 472.1 578.8 470.6 C580.6 469.1 582.1 467.9 584.0 467.0 C585.9 466.1 587.1 465.4 590.0 465.1 C592.9 464.8 599.4 465.0 601.3 465.0" style="stroke-width:2.4"/><path class="k" d="M598 466.6 L607.5 466.9" style="stroke-width:4.4;stroke-linecap:round"/><path class="k" d="M601.3 465.5 C602.4 464.9 605.5 462.8 608.0 461.6 C610.5 460.4 613.0 459.0 616.3 458.1 C619.6 457.2 623.0 456.5 628.0 456.0 C633.0 455.5 643.2 455.2 646.3 455.0" style="stroke-width:2.4"/><path class="k" d="M607.5 466.3 C608.4 466.6 611.1 467.5 613.0 468.0 C614.9 468.5 616.2 469.0 618.8 469.5 C621.4 470.0 625.7 471.0 628.8 471.2 C631.9 471.4 636.0 470.7 637.5 470.6" style="stroke-width:2.4"/><path class="k" d="M607.5 468.1 C608.2 468.9 610.3 471.4 612.0 473.0 C613.7 474.6 615.7 476.3 617.5 477.6 C619.3 478.9 621.1 480.1 623.0 481.0 C624.9 481.9 626.5 482.6 628.8 483.1 C631.1 483.6 634.1 484.0 637.0 484.2 C639.9 484.4 644.8 484.4 646.3 484.4" style="stroke-width:2.4"/><path class="w" d="M697 437.3 L714.3 437.1 A12.8 30.8 0 0 1 715.4 498.7 L697 498.9 Z" style="stroke-width:1.3"/><ellipse class="w" cx="697" cy="468.1" rx="13.7" ry="30.8" style="stroke-width:1.3"/><path class="k" d="M697 437.3 A13.7 30.8 0 0 1 697 498.9" style="stroke-width:2.3"/><path class="w" d="M684 444.3 H697.5 V492.4 H685 Z" style="stroke:none"/><path class="k" d="M684 444.3 H697.2 M685 492.4 H696.4" style="stroke-width:1.3"/><path class="k" d="M697.5 444.3 A8.5 24.4 0 0 1 697 492.4" style="stroke-width:0.7;stroke-dasharray:2 1.6;stroke:#555"/><path class="w" d="M684 444.3 A8.4 24.2 0 0 1 685 492.4 L677.7 490.5 L676.8 446.5 Z" style="stroke-width:1.7"/><path class="k" d="M676.8 446.5 A9 22.1 0 0 1 677.7 490.5" style="stroke-width:2"/><path class="w" d="M654.3 447 H677 A9 22 0 0 1 677.6 490.6 H654.3 Z" style="stroke:none"/><path class="k" d="M654.3 447 H677 M654.3 490.6 H677.6" style="stroke-width:1.3"/><ellipse class="w" cx="654.3" cy="468.9" rx="8.7" ry="22" style="stroke-width:1.9"/><ellipse class="b" cx="649.8" cy="455.3" rx="1.35" ry="2.2"/><ellipse class="b" cx="653.9" cy="455.8" rx="1.35" ry="2.2"/><ellipse class="b" cx="649.8" cy="482.8" rx="1.35" ry="2.2"/><ellipse class="b" cx="653.6" cy="483.3" rx="1.35" ry="2.2"/><polygon class="w" points="630.0,461.9 657.5,461.9 657.5,476.3 630.0,475.0" style="stroke-width:1.8"/><line class="k" x1="638.0" y1="462.2" x2="657.5" y2="463.6" style="stroke-width:2.2"/><line class="k" x1="638.0" y1="475.2" x2="657.5" y2="474.4" style="stroke-width:2.2"/><line class="k" x1="655.0" y1="462.5" x2="655.0" y2="476.0" style="stroke-width:1.2"/><circle class="b" cx="637.8" cy="468.9" r="1.7" /><circle class="b" cx="646.4" cy="469.4" r="2.3" /><path class="k" d="M643.5 463.5 L649.5 469.4 L643.5 475 " style="stroke-width:1.5"/><path class="w" d="M653.5 464.6 A4.6 4.9 0 0 0 653.5 474.4 Z" style="stroke-width:1.1"/><line class="k" x1="633.0" y1="468.9" x2="638.0" y2="468.9" style="stroke-width:1.6"/><g id="ha"><path class="w" d="M290.8 694.1 L312.6 695.4 Q318.4 695.2 318.8 689.3 L320.3 676.5 L325 677.3 L323.6 691 Q322.6 701.2 313.8 700.9 L291.1 698.8 Z" style="stroke-width:1.7"/><path class="k" d="M292.6 694.4 L292.9 698.8" style="stroke-width:1"/><polygon class="w" points="341.6,677.9 368.5,673.9 366.0,690.9" style="stroke-width:2.5;stroke-linejoin:miter"/><path class="k" d="M367.5 681.9 C370.1 682.4 377.9 683.8 383.0 685.0 C388.1 686.2 393.4 687.5 398.3 689.4 C403.2 691.3 407.9 693.8 412.5 696.4 C417.1 699.0 421.8 702.0 425.8 705.0 C429.8 708.0 433.1 711.2 436.5 714.6 C439.9 718.0 442.9 721.4 446.0 725.2 C449.1 729.0 452.2 733.3 455.0 737.6 C457.8 741.9 460.2 746.5 462.5 750.8 C464.8 755.1 466.8 759.0 468.6 763.2 C470.4 767.4 472.7 774.0 473.5 776.1" style="stroke-width:2.5"/></g><use href="#ha" transform="translate(359,-6)"/><polygon class="w" points="374.8,788.2 891.7,779.3 898.8,833.8 898.4,836.6 901.0,839.3 909.5,901.2 863.5,939.2 347.0,948.0 329.0,826.0" style="stroke-width:1.35"/><polyline class="k" points="374.8,788.2 383.0,842.0 898.8,833.8" style="stroke-width:1.35"/><polyline class="k" points="383.0,842.0 379.6,844.0 380.0,851.6 384.0,848.5 901.0,839.3" style="stroke-width:1.35"/><line class="k" x1="385.5" y1="845.2" x2="897.0" y2="836.4" style="stroke-width:0.7;stroke:#555"/><line class="k" x1="379.8" y1="844.6" x2="383.9" y2="846.6" style="stroke-width:0.7"/><polyline class="k" points="384.0,848.5 392.5,909.5 909.5,901.2" style="stroke-width:1.35"/><line class="k" x1="392.5" y1="909.5" x2="347.0" y2="948.0" style="stroke-width:1.35"/><polygon class="k" points="397.6,936.0 417.0,919.7 625.7,916.9 605.6,932.7" style="stroke-width:1.25"/><polyline class="k" points="397.6,935.7 605.6,932.4" style="stroke-width:2"/><polygon class="k" points="643.4,932.1 662.5,916.3 871.6,912.6 850.0,928.2" style="stroke-width:1.25"/><polyline class="k" points="643.4,931.8 850.0,927.9" style="stroke-width:2"/><line class="k" x1="605.6" y1="925.8" x2="605.6" y2="932.0" style="stroke-width:0.7;stroke:#666"/><path class="k" d="M850.6 927.6 C849.6 925 851.6 922 855 921" style="stroke-width:0.7;stroke:#777"/><line class="k" x1="408.4" y1="929.4" x2="414.9" y2="929.3" style="stroke-width:0.8;stroke:#777;stroke-linecap:butt"/><line class="k" x1="430.0" y1="929.1" x2="441.0" y2="928.9" style="stroke-width:0.8;stroke:#777;stroke-linecap:butt"/><line class="k" x1="449.6" y1="928.8" x2="454.0" y2="928.8" style="stroke-width:0.8;stroke:#777;stroke-linecap:butt"/><line class="k" x1="469.0" y1="928.5" x2="471.3" y2="928.5" style="stroke-width:0.8;stroke:#777;stroke-linecap:butt"/><line class="k" x1="488.6" y1="928.3" x2="509.2" y2="928.0" style="stroke-width:0.8;stroke:#777;stroke-linecap:butt"/><line class="k" x1="530.8" y1="927.7" x2="545.0" y2="927.5" style="stroke-width:0.8;stroke:#777;stroke-linecap:butt"/><line class="k" x1="549.3" y1="927.4" x2="558.0" y2="927.3" style="stroke-width:0.8;stroke:#777;stroke-linecap:butt"/><line class="k" x1="590.4" y1="926.9" x2="593.7" y2="926.8" style="stroke-width:0.8;stroke:#777;stroke-linecap:butt"/><line class="k" x1="690.7" y1="924.6" x2="703.7" y2="924.4" style="stroke-width:1;stroke:#888;stroke-linecap:butt"/><line class="k" x1="713.0" y1="924.3" x2="714.2" y2="924.3" style="stroke-width:1;stroke:#888;stroke-linecap:butt"/><line class="k" x1="728.6" y1="924.2" x2="736.0" y2="924.1" style="stroke-width:1;stroke:#888;stroke-linecap:butt"/><line class="k" x1="752.4" y1="923.9" x2="760.0" y2="923.8" style="stroke-width:1;stroke:#888;stroke-linecap:butt"/><text x="228.25" y="146.7" font-size="28">A</text>
<text x="353.4" y="135" font-size="28.5">OFF</text>
<text x="469.2" y="92" font-size="58.8">B</text>
<text x="226.85" y="1158" font-size="28.5">C</text>
<text x="353.3" y="1144.7" font-size="28.8">ON</text>
<text x="268.0" y="227.7" font-size="47.5">1</text>
<text x="432" y="489.9" font-size="47.5">2</text>
<text x="274.8" y="615.7" font-size="47">3</text>
<rect x="269" y="223.6" width="10.94" height="6" fill="#fefefd"/><rect x="284.14" y="223.6" width="10" height="6" fill="#fefefd"/><text x="783.5" y="107" font-size="9.5">x2</text>
<text x="484.2" y="1110.5" font-size="14.2">Instrukcja montażu / instalation instructions / Montageanleitung</text>
<text x="484.2" y="1130" font-size="14.2">Kinkiet / Wall lamp / Wandleuchte</text>
</svg>
</body>
</html>
